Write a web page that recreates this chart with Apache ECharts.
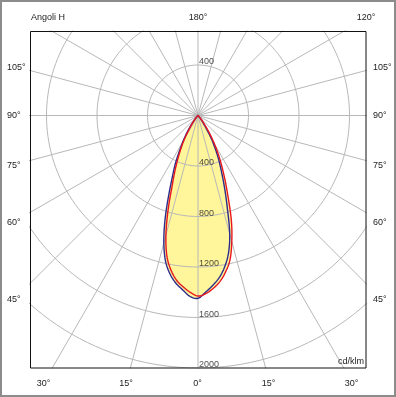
<!DOCTYPE html>
<html>
<head>
<meta charset="utf-8">
<script src="https://cdn.jsdelivr.net/npm/echarts@6/dist/echarts.min.js"></script>
<style>
html,body{margin:0;padding:0;background:#fff;}
#chart{width:396px;height:397px;}
</style>
</head>
<body>
<div id="chart"></div>
<script>
// ---- data ----
const RINGS = [400, 800, 1200, 1600, 2000];
const TOP_RINGS = [400];
const SPOKE_ANGLES = [0, 15, 30, 45, 60, 75, 90, 105, 120, 135, 150, 165];
const ANGLES = [-50, -47.5, -45, -42.5, -40, -37.5, -35, -32.5, -30, -27.5, -25, -22.5, -20, -17.5, -15, -12.5, -10, -7.5, -5, -2.5,
  0, 2.5, 5, 7.5, 10, 12.5, 15, 17.5, 20, 22.5, 25, 27.5, 30, 32.5, 35, 37.5, 40, 42.5, 45, 47.5, 50];
const BLUE_CURVE = [0, 0, 8, 18, 35, 65, 110, 170, 240, 320, 430, 535, 685, 870, 1046, 1185, 1275, 1340, 1387, 1435,
  1448, 1400, 1350, 1294, 1217, 1116, 971, 775, 620, 490, 390, 295, 212, 135, 80, 45, 20, 8, 3, 0, 0];
const RED_CURVE  = [0, 0, 3, 8, 20, 45, 85, 135, 210, 290, 375, 480, 605, 790, 982, 1139, 1240, 1314, 1362, 1402,
  1430, 1413, 1375, 1327, 1258, 1171, 1034, 881, 705, 565, 450, 351, 262, 180, 110, 65, 35, 18, 8, 0, 0];
const TOP_LABELS = ['Angoli H', '180°', '120°'];
const SIDE_LABELS = ['105°', '90°', '75°', '60°', '45°'];
const BOTTOM_LABELS = ['30°', '15°', '0°', '15°', '30°'];
const UNIT_LABEL = 'cd/klm';

// ---- layout ----
const BOX = {l: 30, t: 31, r: 366, b: 368};
const CX = 198, CY = 115.5;
const K = (BOX.b - CY) / 2000; // px per cd/klm
const FONT = '"Liberation Sans", Arial, sans-serif';
const TXT = '#222';
const FS = 9;
const FILL = '#fff59b';
const GRID_COL = '#b8b8b8';

const rad = d => d * Math.PI / 180;
const toXY = (ang, v) => [v * Math.sin(rad(ang)), -v * Math.cos(rad(ang))];

// smooth polar rendering: Catmull-Rom through the read values, in the angle domain
function polarPath(api, vals) {
  const pts = [];
  const n = vals.length;
  for (let i = 0; i < n - 1; i++) {
    const p0 = vals[Math.max(i - 1, 0)], p1 = vals[i], p2 = vals[i + 1], p3 = vals[Math.min(i + 2, n - 1)];
    const steps = 8;
    for (let s = 0; s < steps; s++) {
      const t = s / steps;
      const v = 0.5 * (2 * p1 + (-p0 + p2) * t + (2 * p0 - 5 * p1 + 4 * p2 - p3) * t * t + (-p0 + 3 * p1 - 3 * p2 + p3) * t * t * t);
      const a = ANGLES[i] + (ANGLES[i + 1] - ANGLES[i]) * t;
      pts.push(api.coord(toXY(a, Math.max(0, v))));
    }
  }
  pts.push(api.coord(toXY(ANGLES[n - 1], vals[n - 1])));
  return pts;
}

const series = [];
// fills (union of both planes)
series.push({
  type: 'custom', coordinateSystem: 'cartesian2d', data: [[0, 0]], silent: true, z: 1, animation: false,
  renderItem: (p, api) => ({
    type: 'group',
    children: [BLUE_CURVE, RED_CURVE].map(v => ({
      type: 'polygon', shape: {points: polarPath(api, v)},
      style: {fill: FILL, stroke: null}
    }))
  })
});
// rings
RINGS.forEach(r => {
  const pts = [];
  for (let a = 0; a <= 360; a += 2) pts.push([r * Math.sin(rad(a)), r * Math.cos(rad(a))]);
  series.push({
    type: 'line', data: pts, showSymbol: false, silent: true, smooth: false,
    lineStyle: {color: GRID_COL, width: 1}, z: 2, animation: false, clip: true
  });
});
// spokes
SPOKE_ANGLES.forEach(a => {
  const R = 4000;
  series.push({
    type: 'line', data: [toXY(a, -R), toXY(a, R)], showSymbol: false, silent: true,
    lineStyle: {color: GRID_COL, width: 1}, z: 2, animation: false, clip: true
  });
});
// outlines
series.push({
  type: 'custom', coordinateSystem: 'cartesian2d', data: [[0, 0]], silent: true, z: 3, animation: false,
  renderItem: (p, api) => ({
    type: 'group',
    children: [[BLUE_CURVE, '#2b2b8e'], [RED_CURVE, '#e8161c']].map(([v, col]) => ({
      type: 'polygon', shape: {points: polarPath(api, v)},
      style: {fill: null, stroke: col, lineWidth: 1.4, lineJoin: 'round'}
    }))
  })
});
// ring labels
const ringPts = TOP_RINGS.map(r => [0, r]).concat(RINGS.map(r => [0, -r]));
series.push({
  type: 'scatter', data: ringPts, symbolSize: 0, silent: true, z: 4, animation: false,
  label: {show: true, position: 'right', distance: 1, offset: [0, -3],
    formatter: p => String(Math.abs(p.value[1])), color: TXT, fontSize: FS, fontFamily: FONT}
});

const graphics = [];
graphics.push({type: 'rect', shape: {x: 1, y: 1, width: 394, height: 395},
  style: {fill: 'none', stroke: '#8c8c8c', lineWidth: 2}, z: 10, silent: true});
graphics.push({type: 'rect', shape: {x: BOX.l + 0.5, y: BOX.t + 0.5, width: BOX.r - BOX.l - 0.5, height: BOX.b - BOX.t - 0.5},
  style: {fill: 'none', stroke: '#111', lineWidth: 1}, z: 10, silent: true});
const txt = (s, x, y, align) => ({type: 'text', x, y, silent: true, z: 11,
  style: {text: s, fill: TXT, font: FS + 'px ' + FONT, textAlign: align, textVerticalAlign: 'middle'}});
const topPos = [[31, 18, 'left'], [198, 18, 'center'], [366, 18, 'center']];
TOP_LABELS.forEach((s, i) => graphics.push(txt(s, topPos[i][0], topPos[i][1], topPos[i][2])));
const sideY = [68, 116, 166, 223, 300];
SIDE_LABELS.forEach((s, i) => {
  graphics.push(txt(s, 7, sideY[i], 'left'));
  graphics.push(txt(s, 373, sideY[i], 'left'));
});
const botX = [43.5, 126, 197.5, 268.5, 351.5];
BOTTOM_LABELS.forEach((s, i) => graphics.push(txt(s, botX[i], 384, 'center')));
graphics.push(txt(UNIT_LABEL, 364, 362, 'right'));

const chart = echarts.init(document.getElementById('chart'), null, {renderer: 'canvas'});
chart.setOption({
  animation: false,
  backgroundColor: '#fff',
  grid: {left: BOX.l, top: BOX.t, width: BOX.r - BOX.l, height: BOX.b - BOX.t, show: false},
  xAxis: {type: 'value', min: -(CX - BOX.l) / K, max: (BOX.r - CX) / K, show: false},
  yAxis: {type: 'value', min: -(BOX.b - CY) / K, max: (CY - BOX.t) / K, show: false},
  series: series,
  graphic: graphics
});
</script>
</body>
</html>
